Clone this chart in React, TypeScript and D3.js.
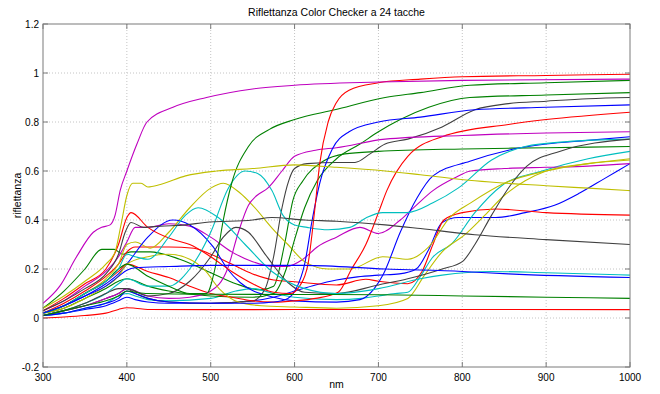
import * as d3 from 'd3'

type Pt = [number, number]

const title = 'Riflettanza Color Checker a 24 tacche'
const xTicks = [300, 400, 500, 600, 700, 800, 900, 1000]
const yTicks = [-0.2, 0, 0.2, 0.4, 0.6, 0.8, 1, 1.2]
// matlab default line colour order (b g r c m y k)
const lineColors = ['#0000ff', '#008000', '#ff0000', '#00bfbf', '#bf00bf', '#bfbf00', '#404040']

const darkSkin: Pt[] = [[300,0.01],[325,0.02],[350,0.035],[375,0.05],[390,0.07],[400,0.085],[410,0.075],[425,0.065],[450,0.06],[500,0.06],[550,0.07],[575,0.085],[600,0.11],[625,0.135],[650,0.155],[675,0.168],[700,0.175],[725,0.18],[745,0.2],[760,0.28],[776,0.39],[795,0.41],[840,0.41],[875,0.43],[910,0.46],[940,0.51],[970,0.57],[1000,0.63]]
const lightSkin: Pt[] = [[300,0.04],[325,0.11],[350,0.2],[370,0.28],[385,0.28],[395,0.26],[405,0.27],[428,0.27],[463,0.24],[503,0.18],[530,0.14],[559,0.115],[575,0.13],[588,0.3],[598,0.48],[610,0.56],[634,0.64],[660,0.67],[700,0.68],[800,0.69],[900,0.695],[1000,0.7]]
const blueSky: Pt[] = [[300,0.02],[325,0.06],[350,0.11],[375,0.17],[390,0.22],[400,0.27],[410,0.29],[450,0.29],[480,0.285],[500,0.26],[525,0.22],[550,0.18],[575,0.155],[600,0.148],[650,0.135],[685,0.158],[700,0.15],[735,0.14],[752,0.19],[765,0.3],[778,0.4],[800,0.43],[840,0.445],[900,0.43],[1000,0.42]]
const foliage: Pt[] = [[300,0.01],[325,0.02],[350,0.04],[375,0.06],[390,0.09],[400,0.1],[410,0.09],[425,0.075],[450,0.07],[500,0.08],[530,0.11],[550,0.12],[575,0.1],[600,0.085],[650,0.075],[680,0.08],[700,0.09],[720,0.1],[735,0.105],[750,0.17],[764,0.245],[788,0.305],[815,0.43],[847,0.54],[895,0.6],[950,0.65],[1000,0.68]]
const blueFlower: Pt[] = [[300,0.03],[325,0.07],[350,0.13],[375,0.19],[390,0.25],[400,0.31],[410,0.37],[425,0.37],[450,0.385],[475,0.375],[500,0.33],[525,0.27],[550,0.23],[575,0.21],[590,0.21],[610,0.24],[627,0.29],[650,0.33],[678,0.37],[700,0.345],[726,0.4],[745,0.46],[765,0.52],[790,0.57],[810,0.6],[850,0.61],[900,0.615],[950,0.62],[1000,0.63]]
const bluishGreen: Pt[] = [[300,0.02],[325,0.05],[350,0.1],[375,0.16],[390,0.22],[400,0.3],[410,0.31],[428,0.285],[450,0.35],[475,0.45],[500,0.53],[515,0.55],[535,0.51],[550,0.46],[575,0.36],[592,0.3],[612,0.23],[640,0.2],[666,0.2],[705,0.25],[735,0.24],[760,0.29],[785,0.41],[810,0.47],[850,0.55],[900,0.6],[950,0.63],[1000,0.65]]
const orange: Pt[] = [[300,0.01],[325,0.03],[350,0.05],[375,0.08],[390,0.1],[400,0.12],[410,0.1],[425,0.08],[450,0.065],[500,0.06],[550,0.07],[565,0.12],[575,0.25],[585,0.45],[593,0.56],[600,0.61],[615,0.63],[650,0.635],[672,0.635],[690,0.67],[708,0.71],[735,0.73],[776,0.78],[815,0.85],[855,0.875],[900,0.885],[950,0.895],[1000,0.9]]
const purplishBlue: Pt[] = [[300,0.02],[325,0.05],[350,0.09],[375,0.14],[390,0.18],[400,0.22],[425,0.33],[455,0.4],[475,0.38],[503,0.29],[520,0.2],[535,0.145],[575,0.085],[600,0.07],[650,0.065],[678,0.075],[695,0.12],[706,0.18],[726,0.35],[746,0.49],[765,0.58],[809,0.64],[855,0.685],[900,0.71],[950,0.725],[1000,0.74]]
const moderateRed: Pt[] = [[300,0.02],[325,0.04],[350,0.08],[375,0.12],[390,0.15],[400,0.16],[425,0.13],[450,0.11],[500,0.09],[550,0.085],[575,0.1],[590,0.2],[600,0.32],[612,0.45],[627,0.56],[650,0.65],[678,0.71],[700,0.76],[726,0.81],[760,0.86],[809,0.9],[900,0.91],[1000,0.92]]
const purple: Pt[] = [[300,0.02],[325,0.05],[350,0.1],[375,0.15],[390,0.19],[400,0.22],[425,0.19],[450,0.165],[475,0.13],[500,0.1],[525,0.085],[550,0.07],[575,0.065],[600,0.07],[625,0.08],[652,0.105],[668,0.2],[685,0.3],[700,0.43],[710,0.52],[735,0.66],[776,0.74],[855,0.79],[900,0.81],[1000,0.84]]
const yellowGreen: Pt[] = [[300,0.01],[325,0.03],[350,0.06],[375,0.1],[390,0.14],[400,0.16],[425,0.13],[450,0.13],[475,0.2],[500,0.35],[521,0.53],[541,0.6],[556,0.59],[573,0.52],[586,0.42],[600,0.38],[615,0.37],[640,0.36],[666,0.37],[686,0.41],[705,0.43],[734,0.43],[765,0.47],[795,0.53],[835,0.645],[875,0.7],[925,0.72],[1000,0.73]]
const orangeYellow: Pt[] = [[300,0.01],[325,0.03],[350,0.05],[375,0.08],[390,0.1],[400,0.12],[425,0.09],[450,0.08],[475,0.085],[500,0.11],[520,0.2],[533,0.35],[545,0.46],[555,0.5],[568,0.53],[585,0.6],[600,0.66],[625,0.685],[650,0.695],[708,0.73],[800,0.745],[900,0.755],[1000,0.76]]
const blue: Pt[] = [[300,0.02],[325,0.04],[350,0.08],[375,0.13],[390,0.17],[400,0.22],[425,0.25],[450,0.26],[475,0.24],[493,0.195],[510,0.12],[533,0.065],[560,0.05],[600,0.045],[650,0.04],[700,0.05],[735,0.08],[755,0.175],[776,0.27],[803,0.34],[827,0.42],[850,0.5],[875,0.56],[900,0.6],[950,0.63],[1000,0.645]]
const green: Pt[] = [[300,0.01],[325,0.03],[350,0.06],[375,0.1],[390,0.12],[400,0.12],[425,0.09],[450,0.1],[475,0.15],[500,0.25],[515,0.33],[530,0.37],[545,0.35],[565,0.26],[592,0.145],[612,0.105],[650,0.1],[700,0.135],[735,0.16],[776,0.2],[800,0.23],[815,0.3],[835,0.42],[857,0.54],[877,0.62],[916,0.68],[1000,0.73]]
const red: Pt[] = [[300,0.01],[325,0.02],[350,0.04],[375,0.06],[390,0.08],[400,0.11],[410,0.1],[425,0.08],[450,0.065],[500,0.06],[550,0.06],[575,0.065],[592,0.08],[602,0.12],[612,0.22],[621,0.4],[630,0.55],[645,0.69],[665,0.76],[700,0.8],[750,0.82],[815,0.85],[900,0.86],[1000,0.87]]
const yellow: Pt[] = [[300,0.02],[325,0.05],[350,0.1],[375,0.15],[390,0.2],[400,0.22],[425,0.17],[450,0.13],[475,0.1],[495,0.1],[505,0.2],[515,0.4],[525,0.55],[545,0.7],[570,0.77],[600,0.81],[648,0.85],[708,0.9],[750,0.92],[809,0.95],[900,0.96],[1000,0.97]]
const magenta: Pt[] = [[300,0.03],[325,0.08],[350,0.14],[375,0.2],[390,0.3],[400,0.41],[405,0.43],[425,0.37],[455,0.32],[475,0.3],[500,0.25],[525,0.19],[550,0.14],[575,0.105],[595,0.1],[606,0.13],[616,0.22],[624,0.44],[630,0.63],[640,0.8],[650,0.88],[665,0.93],[700,0.96],[750,0.975],[800,0.985],[900,0.99],[1000,0.995]]
const cyan: Pt[] = [[300,0.02],[325,0.05],[350,0.1],[375,0.15],[390,0.2],[400,0.26],[410,0.25],[425,0.24],[450,0.33],[470,0.42],[485,0.45],[509,0.41],[541,0.3],[573,0.19],[612,0.12],[650,0.1],[700,0.12],[750,0.16],[776,0.175],[835,0.19],[900,0.185],[1000,0.175]]
const white: Pt[] = [[300,0.06],[320,0.13],[340,0.25],[360,0.35],[370,0.37],[380,0.38],[386,0.42],[392,0.52],[400,0.6],[412,0.71],[424,0.8],[455,0.86],[495,0.9],[550,0.935],[600,0.95],[700,0.963],[800,0.97],[1000,0.975]]
const neutral8: Pt[] = [[300,0.04],[325,0.09],[350,0.15],[375,0.22],[386,0.27],[393,0.38],[400,0.5],[407,0.55],[417,0.55],[425,0.535],[440,0.545],[470,0.58],[507,0.6],[550,0.61],[600,0.625],[650,0.615],[708,0.6],[750,0.585],[815,0.56],[900,0.54],[950,0.53],[1000,0.52]]
const neutral65: Pt[] = [[300,0.03],[325,0.07],[350,0.12],[375,0.18],[390,0.26],[398,0.35],[405,0.39],[420,0.37],[440,0.375],[470,0.38],[493,0.39],[550,0.4],[573,0.41],[612,0.4],[650,0.395],[708,0.38],[750,0.365],[815,0.34],[900,0.32],[1000,0.3]]
const neutral5: Pt[] = [[300,0.02],[325,0.05],[350,0.09],[375,0.13],[390,0.17],[400,0.195],[410,0.205],[450,0.21],[500,0.215],[612,0.215],[708,0.2],[800,0.19],[855,0.18],[1000,0.165]]
const neutral35: Pt[] = [[300,0.01],[325,0.03],[350,0.05],[375,0.07],[390,0.09],[400,0.11],[410,0.105],[425,0.1],[500,0.097],[600,0.096],[700,0.095],[800,0.09],[900,0.085],[1000,0.08]]
const black: Pt[] = [[300,0],[325,0.004],[350,0.01],[375,0.02],[390,0.035],[400,0.042],[410,0.04],[425,0.035],[500,0.034],[700,0.035],[1000,0.034]]

const patches = [darkSkin, lightSkin, blueSky, foliage, blueFlower, bluishGreen,
  orange, purplishBlue, moderateRed, purple, yellowGreen, orangeYellow,
  blue, green, red, yellow, magenta, cyan,
  white, neutral8, neutral65, neutral5, neutral35, black]

export default function App() {
  const W = 660, H = 394
  const left = 43, right = 630, top = 24, bottom = 367

  const x = d3.scaleLinear().domain([300, 1000]).range([left, right])
  const y = d3.scaleLinear().domain([-0.2, 1.2]).range([bottom, top])

  const line = d3.line<Pt>()
    .x(d => x(d[0]))
    .y(d => y(d[1]))
    .curve(d3.curveMonotoneX)

  const axisCol = '#7a7a7a'
  const font = 'Arial, "Liberation Sans", Helvetica, sans-serif'

  return (
    <div style={{ position: 'absolute', left: 0, top: 0 }}>
      <svg width={W} height={H} style={{ display: 'block', background: '#fff' }}>
        {/* grid */}
        {xTicks.slice(1, -1).map(t => (
          <line key={'gx' + t} x1={x(t)} x2={x(t)} y1={top} y2={bottom}
            stroke="#c4c4c4" strokeWidth={1} strokeDasharray="1,2" />
        ))}
        {yTicks.slice(1, -1).map(t => (
          <line key={'gy' + t} x1={left} x2={right} y1={y(t)} y2={y(t)}
            stroke="#c4c4c4" strokeWidth={1} strokeDasharray="1,2" />
        ))}

        {/* curves */}
        <g fill="none" strokeWidth={1.1} strokeLinejoin="round">
          {patches.map((p, i) => (
            <path key={i} d={line(p) ?? ''} stroke={lineColors[i % lineColors.length]} />
          ))}
        </g>

        {/* box + inward ticks */}
        <rect x={left} y={top} width={right - left} height={bottom - top}
          fill="none" stroke={axisCol} strokeWidth={1} />
        {xTicks.map(t => (
          <g key={'tx' + t}>
            <line x1={x(t)} x2={x(t)} y1={bottom} y2={bottom - 5} stroke={axisCol} />
            <line x1={x(t)} x2={x(t)} y1={top} y2={top + 5} stroke={axisCol} />
          </g>
        ))}
        {yTicks.map(t => (
          <g key={'ty' + t}>
            <line x1={left} x2={left + 5} y1={y(t)} y2={y(t)} stroke={axisCol} />
            <line x1={right} x2={right - 5} y1={y(t)} y2={y(t)} stroke={axisCol} />
          </g>
        ))}

        {/* tick labels */}
        <g fontFamily={font} fontSize={10} fill="#000">
          {xTicks.map(t => (
            <text key={'lx' + t} x={x(t)} y={bottom + 14} textAnchor="middle">{t}</text>
          ))}
          {yTicks.map(t => (
            <text key={'ly' + t} x={left - 4} y={y(t)} dy="0.35em" textAnchor="end">
              {d3.format('~g')(t).replace('−', '-')}
            </text>
          ))}
        </g>

        <text x={(left + right) / 2} y={16} textAnchor="middle" fontFamily={font} fontSize={10.5}>{title}</text>
        <text x={(left + right) / 2} y={388} textAnchor="middle" fontFamily={font} fontSize={10.5}>nm</text>
        <text transform={`translate(21,${(top + bottom) / 2}) rotate(-90)`} textAnchor="middle"
          fontFamily={font} fontSize={10.5}>riflettanza</text>
      </svg>
    </div>
  )
}
